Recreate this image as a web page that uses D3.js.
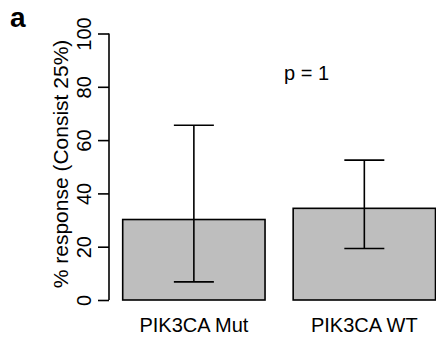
<!DOCTYPE html>
<html>
<head>
<meta charset="utf-8">
<script src="https://cdn.jsdelivr.net/npm/d3@7"></script>
<style>
  body { margin: 0; background: #fff; }
  svg { display: block; font-family: "Liberation Sans", Arial, Helvetica, sans-serif; }
</style>
</head>
<body>
<svg id="chart"></svg>
<script>
// data
const categories = ["PIK3CA Mut", "PIK3CA WT"];
const means = [30.2, 34.4];
const lower = [6.8, 19.3];
const upper = [65.6, 52.5];
const yTicks = [0, 20, 40, 60, 80, 100];
const pLabel = "p = 1";

const width = 436;
const height = 339;

const svg = d3.select("#chart")
  .attr("width", width)
  .attr("height", height)
  .attr("viewBox", [0, 0, width, height]);

let y = d3.scaleLinear().domain([0, 100]).range([300, 33.5]);
let x = d3.scaleBand()
  .domain(categories)
  .range([122.7, 435.5])
  .paddingInner(0.165)
  .paddingOuter(0);

const rows = categories.map((c, i) => ({ cat: c, mean: means[i], lo: lower[i], hi: upper[i] }));

// bars
svg.append("g")
  .selectAll("rect")
  .data(rows)
  .join("rect")
  .attr("x", d => x(d.cat))
  .attr("y", d => y(d.mean))
  .attr("width", x.bandwidth())
  .attr("height", d => y(0) - y(d.mean))
  .attr("fill", "#bebebe")
  .attr("stroke", "#000")
  .attr("stroke-width", 1.6);

// error bars
const capHalf = 20;
const err = svg.append("g")
  .attr("stroke", "#000")
  .attr("stroke-width", 1.6)
  .selectAll("g")
  .data(rows)
  .join("g")
  .attr("transform", d => `translate(${x(d.cat) + x.bandwidth() / 2},0)`);
err.append("line")
  .attr("y1", d => y(d.lo))
  .attr("y2", d => y(d.hi));
err.append("line")
  .attr("x1", -capHalf).attr("x2", capHalf)
  .attr("y1", d => y(d.hi)).attr("y2", d => y(d.hi));
err.append("line")
  .attr("x1", -capHalf).attr("x2", capHalf)
  .attr("y1", d => y(d.lo)).attr("y2", d => y(d.lo));

// y axis, R style with rotated labels
const axisX = 109;
const yAxis = svg.append("g")
  .attr("transform", `translate(${axisX},0)`)
  .call(d3.axisLeft(y).tickValues(yTicks).tickSize(11).tickPadding(0).tickSizeOuter(0));
yAxis.select(".domain").attr("stroke-width", 1.6).attr("d", `M0,${y(0)}V${y(100)}`);
yAxis.selectAll(".tick line").attr("stroke-width", 1.6);
yAxis.selectAll(".tick text")
  .attr("x", null).attr("dy", null)
  .attr("transform", "translate(-18,0) rotate(-90)")
  .attr("text-anchor", "middle")
  .attr("font-size", 20)
  .attr("font-family", null)
  .attr("fill", "#000");

// y label
svg.append("text")
  .attr("transform", "translate(68,164) rotate(-90)")
  .attr("text-anchor", "middle")
  .attr("font-size", 21)
  .text("% response (Consist 25%)");

// category labels
svg.append("g")
  .selectAll("text")
  .data(categories)
  .join("text")
  .attr("x", d => x(d) + x.bandwidth() / 2)
  .attr("y", 332)
  .attr("text-anchor", "middle")
  .attr("font-size", 20)
  .text(d => d);

// p value
svg.append("text")
  .attr("x", 306.5)
  .attr("y", y(82.5))
  .attr("text-anchor", "middle")
  .attr("font-size", 20)
  .text(pLabel);

// panel letter
svg.append("text")
  .attr("x", 10)
  .attr("y", 27)
  .attr("font-size", 28)
  .attr("font-weight", "bold")
  .text("a");
</script>
</body>
</html>
